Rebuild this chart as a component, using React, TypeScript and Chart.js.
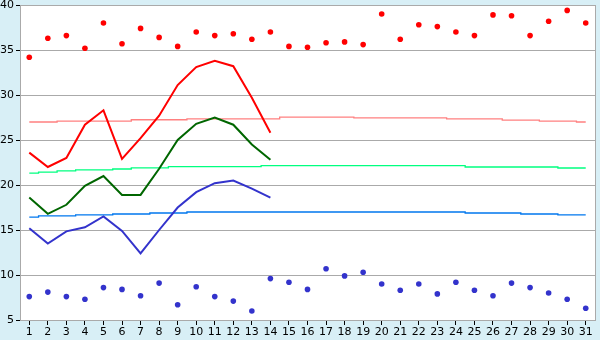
import React, { useEffect, useRef } from "react";
import { Chart, registerables } from "chart.js";

Chart.register(...registerables);

const days = Array.from({ length: 31 }, (_, i) => String(i + 1));

const recordMax = [34.2, 36.3, 36.6, 35.2, 38.0, 35.7, 37.4, 36.4, 35.4, 37.0, 36.6, 36.8, 36.2, 37.0, 35.4, 35.3, 35.8, 35.9, 35.6, 39.0, 36.2, 37.8, 37.6, 37.0, 36.6, 38.9, 38.8, 36.6, 38.2, 39.4, 38.0];
const recordMin = [7.6, 8.1, 7.6, 7.3, 8.6, 8.4, 7.7, 9.1, 6.7, 8.7, 7.6, 7.1, 6.0, 9.6, 9.2, 8.4, 10.7, 9.9, 10.3, 9.0, 8.3, 9.0, 7.9, 9.2, 8.3, 7.7, 9.1, 8.6, 8.0, 7.3, 6.3];

const normalMax = [27.0, 27.0, 27.1, 27.1, 27.1, 27.1, 27.25, 27.25, 27.25, 27.35, 27.35, 27.35, 27.35, 27.35, 27.55, 27.55, 27.55, 27.55, 27.45, 27.45, 27.45, 27.45, 27.45, 27.35, 27.35, 27.35, 27.2, 27.2, 27.1, 27.1, 27.0];
const normalMean = [21.33, 21.44, 21.56, 21.67, 21.67, 21.78, 21.9, 21.9, 22.05, 22.05, 22.05, 22.05, 22.05, 22.15, 22.15, 22.15, 22.15, 22.15, 22.15, 22.15, 22.15, 22.15, 22.15, 22.15, 22.0, 22.0, 22.0, 22.0, 22.0, 21.89, 21.89];
const normalMin = [16.44, 16.56, 16.56, 16.67, 16.67, 16.78, 16.78, 16.89, 16.89, 17.0, 17.0, 17.0, 17.0, 17.0, 17.0, 17.0, 17.0, 17.0, 17.0, 17.0, 17.0, 17.0, 17.0, 17.0, 16.89, 16.89, 16.89, 16.78, 16.78, 16.67, 16.67];

const dailyMax = [23.6, 22.0, 23.0, 26.7, 28.3, 22.9, 25.2, 27.7, 31.1, 33.1, 33.8, 33.2, 29.7, 25.8];
const dailyMean = [18.6, 16.8, 17.8, 19.9, 21.0, 18.9, 18.9, 21.8, 25.0, 26.8, 27.5, 26.7, 24.5, 22.8];
const dailyMin = [15.2, 13.5, 14.85, 15.3, 16.5, 14.9, 12.4, 15.0, 17.5, 19.2, 20.2, 20.5, 19.6, 18.6];

const yMin = 5;
const yMax = 40;
const yStep = 5;

const bgPlugin = {
  id: "bgPlugin",
  beforeDraw(chart: any) {
    const { ctx, chartArea: a, width, height } = chart;
    ctx.save();
    ctx.fillStyle = "#D8EFF6";
    ctx.fillRect(0, 0, width, height);
    ctx.fillStyle = "#FFFFFF";
    ctx.fillRect(a.left, a.top, a.right - a.left, a.bottom - a.top);
    ctx.restore();
  },
  beforeDatasetsDraw(chart: any) {
    const { ctx, chartArea: a } = chart;
    ctx.save();
    ctx.strokeStyle = "#AAAAAA";
    ctx.lineWidth = 1;
    ctx.strokeRect(Math.round(a.left) + 0.5, Math.round(a.top) + 0.5, Math.round(a.right - a.left), Math.round(a.bottom - a.top));
    ctx.restore();
  },
};

export default function App() {
  const ref = useRef<HTMLCanvasElement | null>(null);
  useEffect(() => {
    if (!ref.current) return;
    const font = { family: "DejaVu Sans", size: 11 };
    const chart = new Chart(ref.current, {
      type: "line",
      data: {
        labels: days,
        datasets: [
          { data: dailyMax, borderColor: "#FF0000", borderWidth: 2, pointRadius: 0, order: 1 },
          { data: dailyMean, borderColor: "#006600", borderWidth: 2, pointRadius: 0, order: 1 },
          { data: dailyMin, borderColor: "#3333CC", borderWidth: 2, pointRadius: 0, order: 1 },
          { data: recordMax, showLine: false, pointRadius: 2.8, pointStyle: "circle", pointBackgroundColor: "#FF0000", pointBorderWidth: 0, borderColor: "#FF0000", order: 2 },
          { data: recordMin, showLine: false, pointRadius: 2.8, pointStyle: "circle", pointBackgroundColor: "#3333CC", pointBorderWidth: 0, borderColor: "#3333CC", order: 2 },
          { data: normalMax, borderColor: "#FF8080", borderWidth: 1.3, pointRadius: 0, stepped: "middle", order: 3 },
          { data: normalMean, borderColor: "#00FF80", borderWidth: 1.3, pointRadius: 0, stepped: "middle", order: 3 },
          { data: normalMin, borderColor: "#0077EE", borderWidth: 1.3, pointRadius: 0, stepped: "middle", order: 3 },
        ],
      },
      options: {
        animation: false,
        responsive: false,
        layout: { padding: { top: 5, right: 5, left: 0, bottom: 0 } },
        plugins: { legend: { display: false }, tooltip: { enabled: false } },
        scales: {
          x: {
            offset: true,
            grid: { drawOnChartArea: false, tickColor: "#000000", tickLength: 5, offset: false },
            border: { display: true, color: "#AAAAAA" },
            ticks: { color: "#000000", font, padding: 1, autoSkip: false, maxRotation: 0 },
            afterFit(scale: any) {
              scale.height = 20;
              scale.paddingLeft = 0;
              scale.paddingRight = 0;
            },
          },
          y: {
            min: yMin,
            max: yMax,
            ticks: { stepSize: yStep, color: "#000000", font, padding: 2 },
            grid: { color: "#AAAAAA", tickColor: "#000000", tickLength: 4 },
            border: { display: true, color: "#AAAAAA" },
            afterFit(scale: any) {
              scale.width = 20;
              scale.paddingTop = 0;
              scale.paddingBottom = 0;
            },
          },
        },
      },
      plugins: [bgPlugin],
    } as any);
    return () => chart.destroy();
  }, []);
  return (
    <div style={{ position: "fixed", left: 0, top: 0, width: 600, height: 340, background: "#D8EFF6" }}>
      <canvas ref={ref} width={600} height={340} style={{ width: 600, height: 340, display: "block" }} />
    </div>
  );
}
